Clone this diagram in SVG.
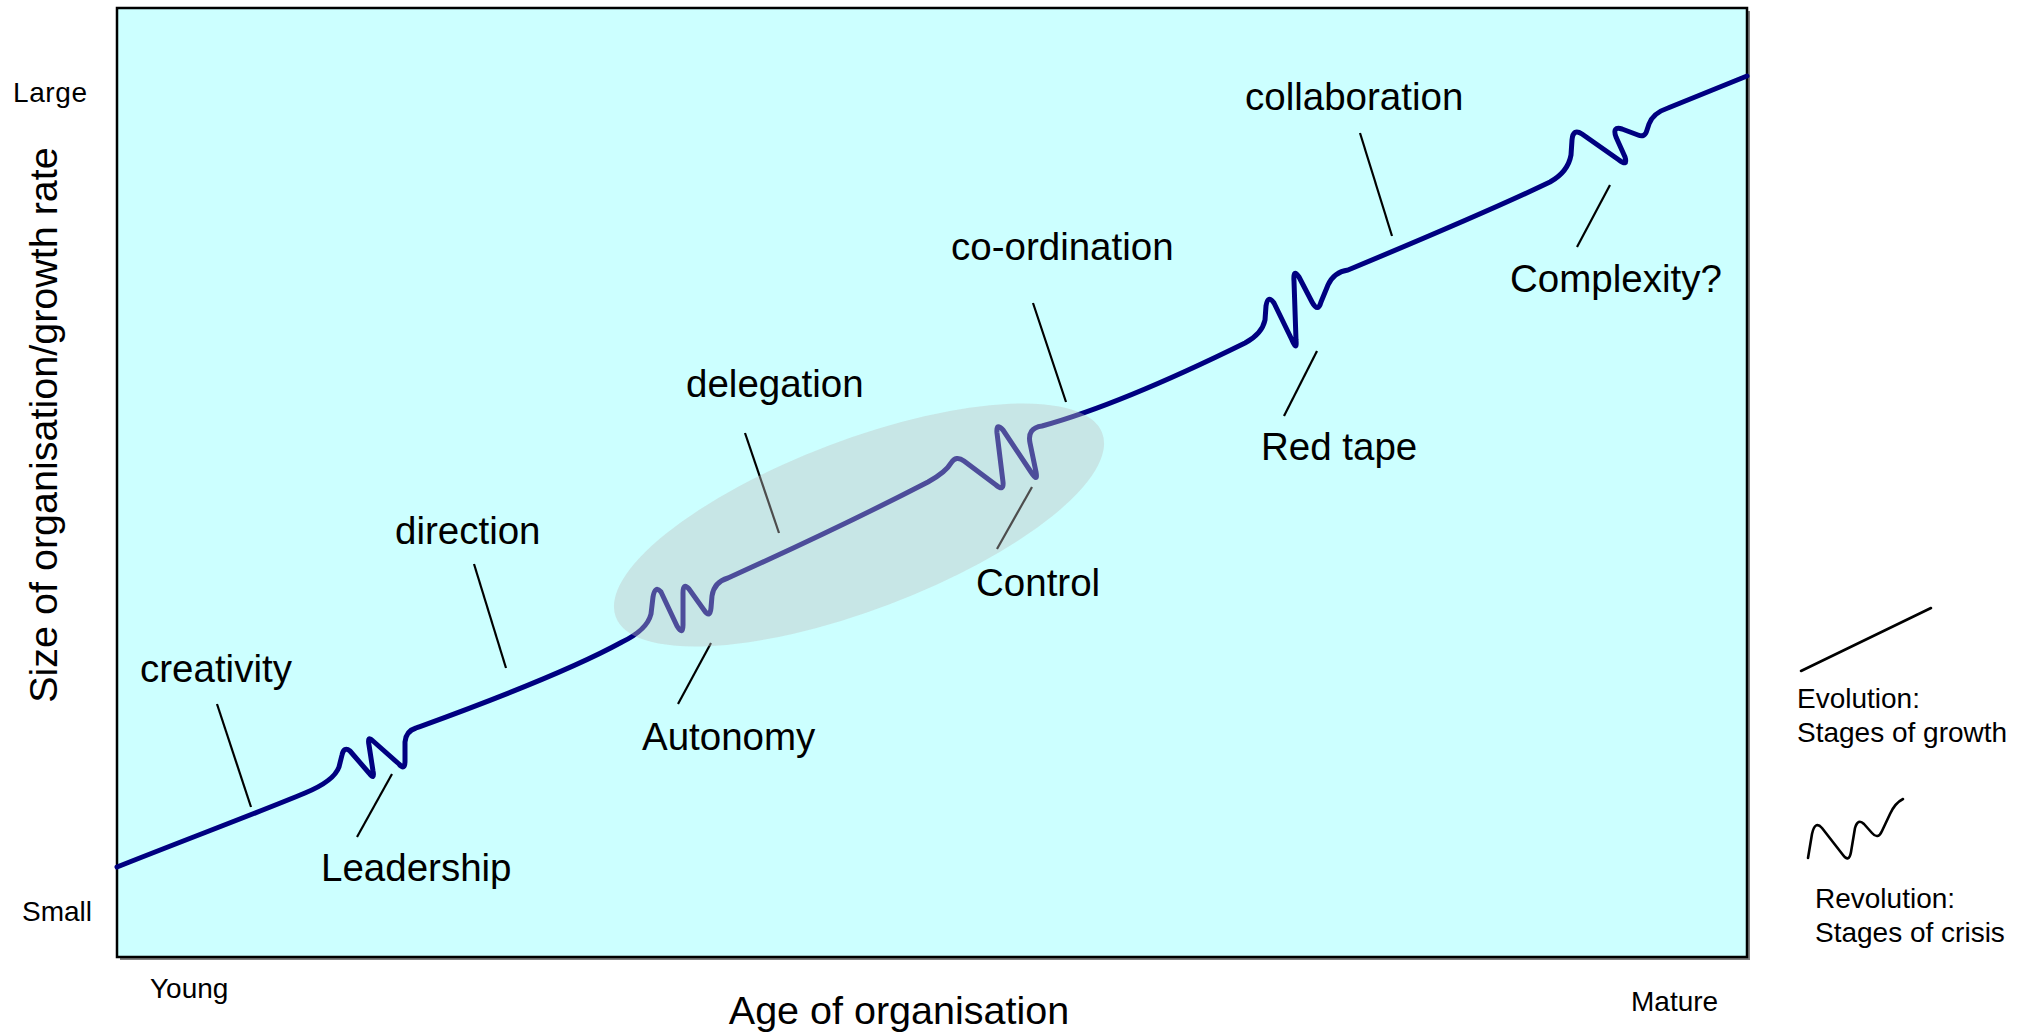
<svg xmlns="http://www.w3.org/2000/svg" width="2025" height="1032" viewBox="0 0 2025 1032">
  <style>
    .lbl { font-family: "Liberation Sans", Arial, sans-serif; font-size: 38.5px; fill: #000; }
    .title { font-family: "Liberation Sans", Arial, sans-serif; font-size: 39.5px; fill: #000; }
    .axis { font-family: "Liberation Sans", Arial, sans-serif; font-size: 28px; fill: #000; }
    .ptr { stroke: #000; stroke-width: 2.2; fill: none; stroke-linecap: butt; }
    .growth { stroke: #000080; stroke-width: 5; fill: none; stroke-linejoin: round; stroke-linecap: round; }
    .key { stroke: #000; stroke-width: 2.6; fill: none; stroke-linecap: round; stroke-linejoin: round; }
  </style>

  <rect x="0" y="0" width="2025" height="1032" fill="#ffffff"/>

  <!-- plot area with drop shadow -->
  <g id="frame">
    <rect x="120" y="11" width="1630" height="949" fill="#7f7f7f"/>
    <rect x="117" y="8" width="1630" height="949" fill="#ccffff" stroke="#000" stroke-width="2.5"/>
  </g>

  <!-- axis captions -->
  <g id="axis-labels">
    <text class="axis" x="13" y="102" textLength="74">Large</text>
    <text class="axis" x="22" y="921">Small</text>
    <text class="axis" x="150" y="998">Young</text>
    <text class="axis" x="1631" y="1011">Mature</text>
    <text class="title" x="899" y="1024" text-anchor="middle">Age of organisation</text>
    <text class="title" transform="translate(57,425) rotate(-90)" text-anchor="middle">Size of organisation/growth rate</text>
  </g>

  <!-- label pointers and the growth curve -->
  <g id="connectors">
    <line class="ptr" x1="217" y1="704" x2="251" y2="807"/>
    <line class="ptr" x1="392" y1="774" x2="357" y2="837"/>
    <line class="ptr" x1="474" y1="564" x2="506" y2="668"/>
    <line class="ptr" x1="711" y1="643" x2="678" y2="704"/>
    <line class="ptr" x1="745" y1="433" x2="779" y2="533"/>
    <line class="ptr" x1="1032" y1="487" x2="997" y2="549"/>
    <line class="ptr" x1="1033" y1="303" x2="1066" y2="402"/>
    <line class="ptr" x1="1317" y1="351" x2="1284" y2="416"/>
    <line class="ptr" x1="1360" y1="133" x2="1392" y2="236"/>
    <line class="ptr" x1="1610" y1="185" x2="1577" y2="247"/>

    <path id="growth-curve" class="growth" d="M117,867
      C190,838 262,811 305,793 Q334,781 339,767 L342,755 Q344,746 350,751 L369,773 Q375,781 373,771
      L369,745 Q367,735 373,741 L399,764 Q405,771 405,761 L405,742 Q406,731 416,728
      C460,712 560,676 622,642 Q647,630 651,614 L653,597 Q655,585 661,592 L677,626 Q683,636 683,625
      L683,593 Q683,582 689,589 L704,610 Q710,619 711,608 L712,596 Q714,582 728,578
      C790,550 870,512 928,482 Q946,472 951,463 Q956,455 964,461 L996,485 Q1004,492 1003,482
      L997,433 Q996,422 1003,430 L1031,472 Q1038,483 1036,472 L1030,443 Q1027,428 1042,426
      C1100,410 1180,375 1245,343 Q1262,334 1265,320 L1266,306 Q1268,294 1274,303 L1292,340 Q1297,352 1296,340
      L1294,281 Q1293,268 1299,277 L1312,302 Q1318,313 1321,302 L1328,285 Q1334,272 1348,270
      C1420,240 1500,206 1550,182 Q1568,172 1571,155 L1572,140 Q1573,128 1582,134 L1619,160 Q1628,167 1625,157
      L1616,137 Q1612,126 1622,129 L1638,135 Q1645,138 1647,130 L1649,124 Q1653,113 1668,108 L1747,76"/>
  </g>

  <!-- highlighted delegation/control phase -->
  <g id="highlight">
    <ellipse cx="859" cy="525" rx="260" ry="85" transform="rotate(-20.7 859 525)" fill="#c0c0c0" fill-opacity="0.4"/>
  </g>

  <!-- stage labels -->
  <g id="stage-creativity"><text class="lbl" x="140" y="682">creativity</text></g>
  <g id="stage-leadership"><text class="lbl" x="321" y="881">Leadership</text></g>
  <g id="stage-direction"><text class="lbl" x="395" y="544">direction</text></g>
  <g id="stage-autonomy"><text class="lbl" x="642" y="750">Autonomy</text></g>
  <g id="stage-delegation"><text class="lbl" x="686" y="397">delegation</text></g>
  <g id="stage-control"><text class="lbl" x="976" y="596">Control</text></g>
  <g id="stage-coordination"><text class="lbl" x="951" y="260">co-ordination</text></g>
  <g id="stage-redtape"><text class="lbl" x="1261" y="460">Red tape</text></g>
  <g id="stage-collaboration"><text class="lbl" x="1245" y="110">collaboration</text></g>
  <g id="stage-complexity"><text class="lbl" x="1510" y="292">Complexity?</text></g>

  <!-- key -->
  <g id="key-evolution">
    <line class="key" x1="1801" y1="671" x2="1931" y2="608"/>
    <text class="axis" x="1797" y="708">Evolution:</text>
    <text class="axis" x="1797" y="742">Stages of growth</text>
  </g>
  <g id="key-revolution">
    <path class="key" d="M1808,858 L1812,834 Q1815,820 1822,828 L1843,855 Q1849,863 1851,852 L1855,828 Q1858,818 1864,824 L1872,833 Q1878,840 1882,831 L1890,814 Q1895,803 1903,799"/>
    <text class="axis" x="1815" y="908">Revolution:</text>
    <text class="axis" x="1815" y="942">Stages of crisis</text>
  </g>
</svg>
